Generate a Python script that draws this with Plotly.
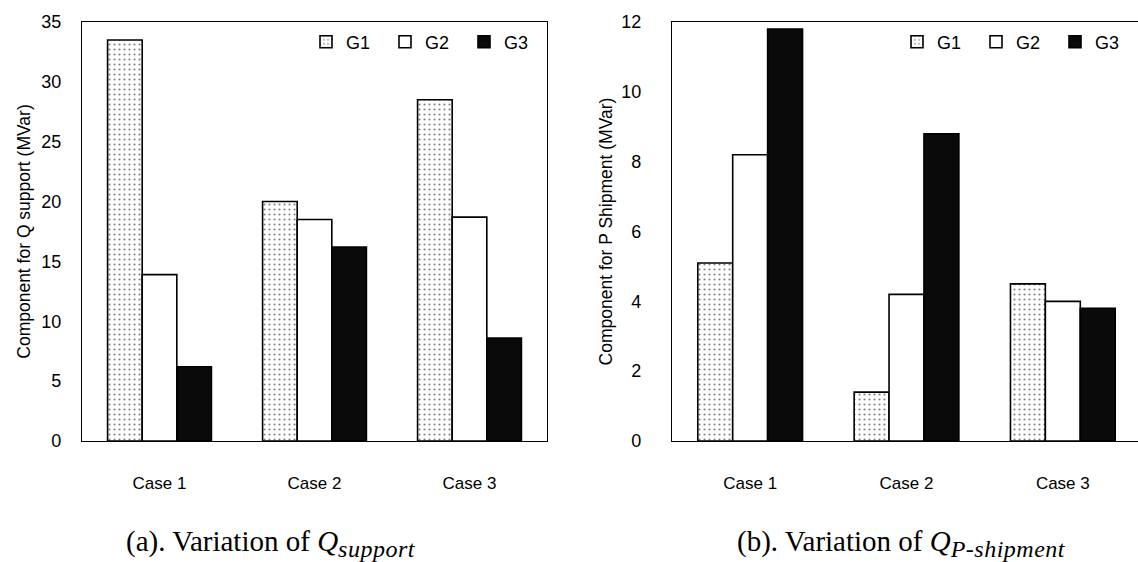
import plotly.graph_objects as go

cases = ["Case 1", "Case 2", "Case 3"]
series = ["G1", "G2", "G3"]
q_support = {"G1": [33.5, 20.0, 28.5], "G2": [13.9, 18.5, 18.7], "G3": [6.2, 16.2, 8.6]}
p_shipment = {"G1": [5.1, 1.4, 4.5], "G2": [8.2, 4.2, 4.0], "G3": [11.8, 8.8, 3.8]}
y1_ticks = [0, 5, 10, 15, 20, 25, 30, 35]
y2_ticks = [0, 2, 4, 6, 8, 10, 12]

W, H = 1138, 562
styles = {
    "G1": dict(color="white", pattern=dict(shape=".", fgcolor="black", bgcolor="white", size=5, solidity=0.14, fillmode="overlay")),
    "G2": dict(color="white"),
    "G3": dict(color="#0a0a0a"),
}

fig = go.Figure()
for s in series:
    fig.add_trace(go.Bar(x=cases, y=q_support[s], name=s, xaxis="x", yaxis="y",
                         marker=dict(line=dict(color="black", width=1.6), **styles[s]),
                         legend="legend"))
for s in series:
    fig.add_trace(go.Bar(x=cases, y=p_shipment[s], name=s, xaxis="x2", yaxis="y2",
                         marker=dict(line=dict(color="black", width=1.6), **styles[s]),
                         legend="legend2"))

font = dict(family="Liberation Sans, Arial", color="black")
ydom = [1 - 441 / H, 1 - 22 / H]
axis_common = dict(showgrid=False, zeroline=False, showline=True, linecolor="black", linewidth=1.2,
                   ticks="")
xfont = dict(size=17, **font)
yfont = dict(size=18, **font)

fig.update_layout(
    width=W, height=H, margin=dict(l=0, r=0, t=0, b=0, autoexpand=False),
    paper_bgcolor="white", plot_bgcolor="white",
    barmode="group", bargap=0.33, bargroupgap=0,
    font=font,
    xaxis=dict(domain=[82 / W, 547 / W], anchor="y", mirror=True, ticklabelstandoff=26, range=[-0.5, 2.5],
               tickfont=xfont, **axis_common),
    yaxis=dict(domain=ydom, anchor="x", mirror=True, range=[0, 35], tickvals=y1_ticks,
               ticklabelstandoff=16, tickfont=yfont,
               title=dict(text="Component for Q support (MVar)", font=dict(size=17.5, **font), standoff=6),
               **axis_common),
    xaxis2=dict(domain=[672 / W, 1.0], anchor="y2", mirror=True, ticklabelstandoff=26,
                range=[-0.5, 2.5 - 3 / 156.5], tickfont=xfont, **axis_common),
    yaxis2=dict(domain=ydom, anchor="x2", mirror=False, range=[0, 12], tickvals=y2_ticks,
                ticklabelstandoff=26, tickfont=yfont,
                title=dict(text="Component for P Shipment (MVar)", font=dict(size=17.5, **font), standoff=4),
                **axis_common),
    legend=dict(orientation="h", x=306 / W, y=1 - 42 / H, xanchor="left", yanchor="middle",
                entrywidth=34, entrywidthmode="pixels", itemwidth=30, bgcolor="rgba(0,0,0,0)",
                font=dict(size=18, **font), traceorder="normal"),
    legend2=dict(orientation="h", x=897 / W, y=1 - 42 / H, xanchor="left", yanchor="middle",
                 entrywidth=34, entrywidthmode="pixels", itemwidth=30, bgcolor="rgba(0,0,0,0)",
                 font=dict(size=18, **font), traceorder="normal"),
)

cap_font = dict(family="Liberation Serif, Times New Roman", size=29, color="black")
sub_style = "font-size:24px;letter-spacing:0.5px"
fig.add_annotation(text=f"(a). Variation of <i>Q<sub><span style='{sub_style}'>support</span></sub></i>",
                   x=271 / W, y=1 - 543 / H,
                   xref="paper", yref="paper", showarrow=False, font=cap_font, xanchor="center", yanchor="middle")
fig.add_annotation(text=f"(b). Variation of <i>Q<sub><span style='{sub_style}'>P-shipment</span></sub></i>",
                   x=901 / W, y=1 - 543 / H,
                   xref="paper", yref="paper", showarrow=False, font=cap_font, xanchor="center", yanchor="middle")

fig.write_html("out.html")
